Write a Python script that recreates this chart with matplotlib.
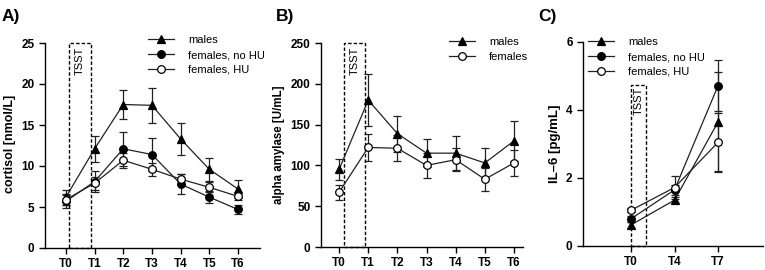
import matplotlib
matplotlib.use("Agg")
import matplotlib.pyplot as plt
from matplotlib.patches import Rectangle
from matplotlib.lines import Line2D

plt.rcParams['font.family'] = ['Liberation Sans', 'DejaVu Sans']

# ---------- data ----------
tp_ab = ["T0", "T1", "T2", "T3", "T4", "T5", "T6"]
tp_c = ["T0", "T4", "T7"]

cort_males = [6.2, 12.1, 17.5, 17.4, 13.3, 9.6, 7.2]
cort_males_sem = [0.9, 1.6, 1.8, 2.1, 1.9, 1.4, 1.1]
cort_fnohu = [5.7, 8.1, 12.1, 11.4, 7.8, 6.2, 4.7]
cort_fnohu_sem = [0.8, 1.3, 2.1, 2.0, 1.2, 0.7, 0.5]
cort_fhu = [5.9, 7.9, 10.7, 9.6, 8.4, 7.4, 6.3]
cort_fhu_sem = [0.7, 0.8, 0.9, 0.8, 0.6, 0.6, 0.5]

amy_males = [95, 180, 139, 115, 115, 103, 130]
amy_males_sem = [13, 32, 22, 17, 21, 18, 25]
amy_females = [67, 122, 121, 100, 107, 83, 103]
amy_females_sem = [9, 16, 16, 15, 14, 14, 16]

il6_males = [0.62, 1.35, 3.65]
il6_males_sem = [0.08, 0.08, 1.48]
il6_fnohu = [0.80, 1.65, 4.72]
il6_fnohu_sem = [0.08, 0.15, 0.75]
il6_fhu = [1.05, 1.72, 3.05]
il6_fhu_sem = [0.06, 0.33, 0.85]

W, H = 765, 270
fig = plt.figure(figsize=(W / 100, H / 100), dpi=100)


def px_axes(left, right, top, bottom):
    return fig.add_axes([left / W, 1 - bottom / H, (right - left) / W, (bottom - top) / H])


def style(ax, fs):
    for s in ['top', 'right']:
        ax.spines[s].set_visible(False)
    for s in ['left', 'bottom']:
        ax.spines[s].set_linewidth(1.0)
    ax.tick_params(axis='both', direction='out', length=4.5, width=1.0, labelsize=fs, pad=3)
    for lab in ax.get_xticklabels() + ax.get_yticklabels():
        lab.set_fontweight('bold')


def series(ax, x, y, e, marker, mfc):
    ax.errorbar(x, y, yerr=e, color='#222222', lw=0.9, marker=marker, ms=5.5,
                mfc=mfc, mec='black', mew=0.9, capsize=3, elinewidth=0.9,
                capthick=0.9, zorder=3)


def legend(ax, entries, xpx, ypx):
    handles = [Line2D([], [], color='#222222', lw=0.9, marker=m, ms=5.5, mfc=f,
                      mec='black', mew=0.9) for m, f, _ in entries]
    labels = [l for _, _, l in entries]
    fig.legend(handles, labels, loc='upper left', bbox_to_anchor=(xpx / W, 1 - ypx / H),
               frameon=False, fontsize=8, borderpad=0, borderaxespad=0,
               handlelength=2.3, handletextpad=1.3, labelspacing=0.45)


def tsst(ax, x0, x1, ytop, ytext):
    ax.add_patch(Rectangle((x0, 0), x1 - x0, ytop, fill=False, ls=(0, (2.5, 1.5)),
                           lw=1.0, ec='black', zorder=2, clip_on=False))
    ax.text((x0 + x1) / 2, ytext, "TSST", rotation=90, ha='center', va='top',
            fontsize=8)


# ---------- A ----------
axA = px_axes(45, 260, 43, 248)
x = list(range(len(tp_ab)))
series(axA, x, cort_males, cort_males_sem, '^', 'black')
series(axA, x, cort_fnohu, cort_fnohu_sem, 'o', 'black')
series(axA, x, cort_fhu, cort_fhu_sem, 'o', 'white')
axA.set_xlim(-0.73, 6.77)
axA.set_ylim(0, 25)
axA.set_yticks([0, 5, 10, 15, 20, 25])
axA.set_xticks(x)
axA.set_xticklabels(tp_ab)
axA.set_ylabel("cortisol [nmol/L]", fontsize=9, fontweight='bold')
axA.yaxis.set_label_coords(-0.135, 0.51)
tsst(axA, 0.1, 0.87, 25, 24.6)
style(axA, 8.5)
legend(axA, [('^', 'black', 'males'), ('o', 'black', 'females, no HU'),
             ('o', 'white', 'females, HU')], 148, 35)
fig.text(2 / W, 1 - 16 / H, "A)", fontsize=12.5, fontweight='bold', va='center')

# ---------- B ----------
axB = px_axes(321, 523, 43, 247)
series(axB, x, amy_males, amy_males_sem, '^', 'black')
series(axB, x, amy_females, amy_females_sem, 'o', 'white')
axB.set_xlim(-0.62, 6.31)
axB.set_ylim(0, 250)
axB.set_yticks([0, 50, 100, 150, 200, 250])
axB.set_xticks(x)
axB.set_xticklabels(tp_ab)
axB.set_ylabel("alpha amylase [U/mL]", fontsize=8.3, fontweight='bold')
axB.yaxis.set_label_coords(-0.18, 0.5)
tsst(axB, 0.17, 0.9, 250, 246)
style(axB, 8.5)
legend(axB, [('^', 'black', 'males'), ('o', 'white', 'females')], 449, 37)
fig.text(276 / W, 1 - 16 / H, "B)", fontsize=12.5, fontweight='bold', va='center')

# ---------- C ----------
axC = px_axes(583, 763, 42, 246)
xc = list(range(len(tp_c)))
series(axC, xc, il6_males, il6_males_sem, '^', 'black')
series(axC, xc, il6_fnohu, il6_fnohu_sem, 'o', 'black')
series(axC, xc, il6_fhu, il6_fhu_sem, 'o', 'white')
axC.set_xlim(-1.1, 3.03)
axC.set_ylim(0, 6)
axC.set_yticks([0, 2, 4, 6])
axC.set_xticks(xc)
axC.set_xticklabels(tp_c)
axC.set_ylabel("IL\u20136 [pg/mL]", fontsize=9.5, fontweight='bold')
axC.yaxis.set_label_coords(-0.12, 0.5)
tsst(axC, 0.0, 0.35, 4.75, 4.68)
style(axC, 8.5)
legend(axC, [('^', 'black', 'males'), ('o', 'black', 'females, no HU'),
             ('o', 'white', 'females, HU')], 588, 37)
fig.text(538 / W, 1 - 16 / H, "C)", fontsize=12.5, fontweight='bold', va='center')

fig.savefig("out.png", dpi=100)
